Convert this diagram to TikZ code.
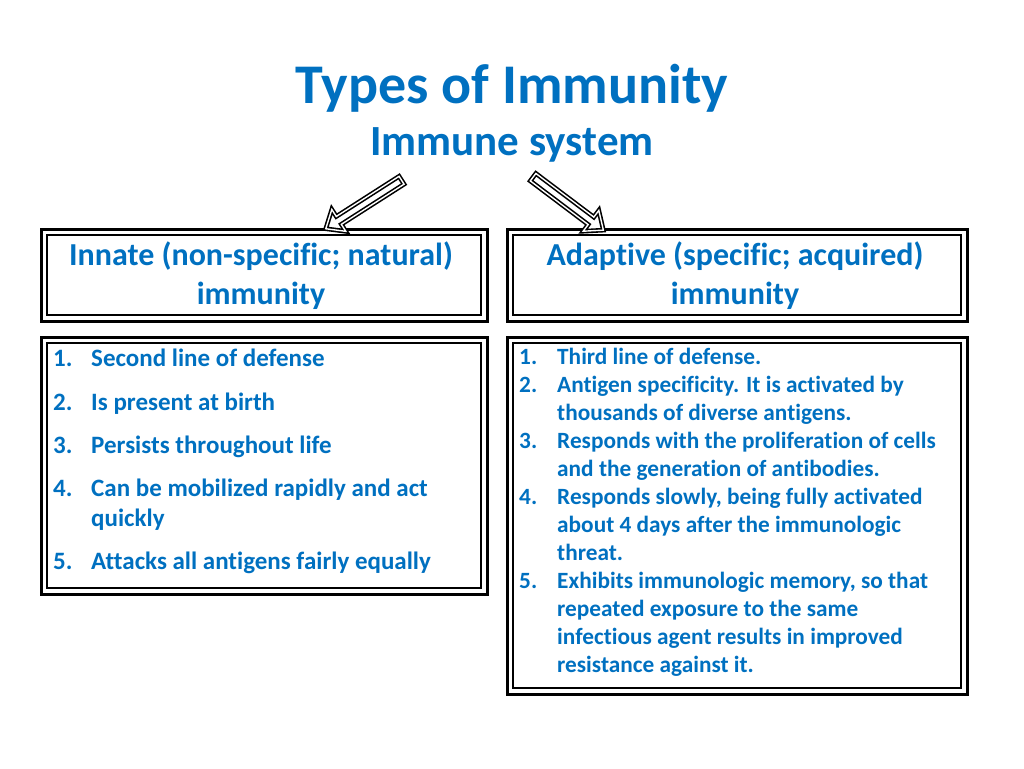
\documentclass[tikz,border=0pt]{standalone}
\usepackage{fontspec}
\setmainfont{Carlito}[Ligatures=NoCommon]
\usetikzlibrary{shapes.arrows}
\definecolor{tblue}{HTML}{0070C0}
\begin{document}
\begin{tikzpicture}[x=1pt,y=-1pt,
  outerb/.style={draw=black,line width=3pt},
  innerb/.style={draw=black,line width=1.2pt},
  hdr/.style={text=tblue,font=\bfseries\fontsize{32}{39}\selectfont,align=center},
  num/.style={text=tblue,anchor=base west,inner sep=0},
  itm/.style={text=tblue,anchor=base west,inner sep=0,align=left},
  barrow/.style={single arrow,draw=black,fill=white,line width=1.6pt,double,double distance=1.4pt,
    minimum width=26pt,single arrow head extend=5pt,single arrow tip angle=80,inner sep=2pt,anchor=center}]
\useasboundingbox (0,0) rectangle (1024,768);
\node[text=tblue,font=\bfseries\fontsize{56}{60}\selectfont] (title) at (512,88) {Types of Immunity};
\node[text=tblue,font=\bfseries\fontsize{43}{48}\selectfont] (sub) at (512,145) {Immune system};
% boxes
\draw[outerb] (41,229) rectangle (487,321);
\draw[innerb] (47,235) rectangle (481,315);
\draw[outerb] (507,229) rectangle (967,321);
\draw[innerb] (513,235) rectangle (961,315);
\draw[outerb] (41,337) rectangle (487,594);
\draw[innerb] (47,343) rectangle (481,588);
\draw[outerb] (507,337) rectangle (967,694);
\draw[innerb] (513,343) rectangle (961,688);
\node[hdr] (h1) at (261,276) {Innate (non-specific; natural)\\immunity};
\node[hdr] (h2) at (735,276) {Adaptive (specific; acquired)\\immunity};
% arrows
\node[barrow,minimum height=90pt,rotate=212.6] (a1) at (366,203) {};
\node[barrow,minimum height=88pt,rotate=-37] (a2) at (566,202) {};
% left list
\begin{scope}[every node/.append style={font=\bfseries\fontsize{25}{30}\selectfont}]
\node[num] (l1) at (53,366) {1.};
\node[itm] (t1) at (91,366) {Second line of defense};
\node[num] (l2) at (53,410) {2.};
\node[itm] (t2) at (91,410) {Is present at birth};
\node[num] (l3) at (53,453) {3.};
\node[itm] (t3) at (91,453) {Persists throughout life};
\node[num] (l4) at (53,496) {4.};
\node[itm] (t4) at (91,526) {Can be mobilized rapidly and act\\quickly};
\node[num] (l5) at (53,569) {5.};
\node[itm] (t5) at (91,569) {Attacks all antigens fairly equally};
\end{scope}
% right list
\begin{scope}[every node/.append style={font=\bfseries\fontsize{23.3}{28}\selectfont}]
\node[num] (r1) at (519,364) {1.};
\node[itm] (s1) at (557,364) {Third line of defense.};
\node[num] (r2) at (519,392) {2.};
\node[itm] (s2) at (557,420) {Antigen specificity. It is activated by\\thousands of diverse antigens.};
\node[num] (r3) at (519,448) {3.};
\node[itm] (s3) at (557,476) {Responds with the proliferation of cells\\and the generation of antibodies.};
\node[num] (r4) at (519,504) {4.};
\node[itm] (s4) at (557,560) {Responds slowly, being fully activated\\about 4 days after the immunologic\\threat.};
\node[num] (r5) at (519,588) {5.};
\node[itm] (s5) at (557,672) {Exhibits immunologic memory, so that\\repeated exposure to the same\\infectious agent results in improved\\resistance against it.};
\end{scope}
\end{tikzpicture}
\end{document}
